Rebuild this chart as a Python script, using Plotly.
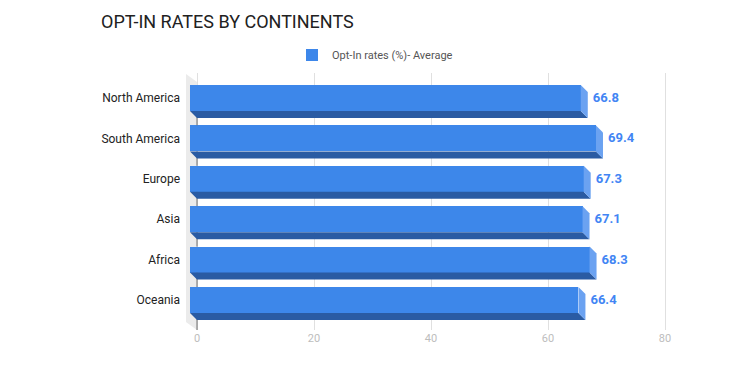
import plotly.graph_objects as go

# ---- data ----
categories = ["North America", "South America", "Europe", "Asia", "Africa", "Oceania"]
values = [66.8, 69.4, 67.3, 67.1, 68.3, 66.4]
series_name = "Opt-In rates (%)- Average"
x_ticks = [0, 20, 40, 60, 80]
title_text = "OPT-IN RATES BY CONTINENTS"

# ---- layout geometry (pixels) ----
W, H = 732, 370
L, R, T, B = 186, 672, 73, 330
sx = 5.85          # px per x unit
front0 = 190       # pixel of x=0 on front face
back0 = 197        # pixel of x=0 on back plane (grid)
sy = 40.4          # px per category
c0 = 98            # pixel of first category centre
depth = 7          # 3D depth in px
bar_px = 26

x_range = [(L - front0) / sx, (R - front0) / sx]
x2_range = [(L - back0) / sx, (R - back0) / sx]
y_range = [(B - c0) / sy, (T - c0) / sy]
dxu = depth / sx
dyu = depth / sy
h = bar_px / sy / 2

FRONT = "#3d87ea"
SIDE = "#6ba2f1"
BOTTOM = "#2a5ba3"
idx = list(range(len(categories)))

def px(x, y):
    return (x - L) / (R - L), (B - y) / (B - T)

fig = go.Figure()
fig.add_trace(go.Bar(
    x=values, y=idx, orientation="h", width=bar_px / sy,
    marker=dict(color=FRONT, line=dict(width=0)),
    name=series_name, xaxis="x", yaxis="y", showlegend=True,
    hoverinfo="skip",
))
fig.add_trace(go.Scatter(
    x=[v + dxu + 5 / sx for v in values], y=[i + 0.02 for i in idx], mode="text",
    text=[f"{v:.1f}" for v in values], textposition="middle right",
    textfont=dict(family="Roboto", size=13, color="#4285f4", weight="bold"),
    xaxis="x", yaxis="y", showlegend=False, hoverinfo="skip",
))
# invisible trace to activate x2
fig.add_trace(go.Scatter(x=[0], y=[0], mode="markers", marker=dict(opacity=0),
                         xaxis="x2", yaxis="y", showlegend=False, hoverinfo="skip"))

shapes = []
# left wall
pts = [px(186, 74), px(197, 82), px(197, 330), px(186, 322)]
path = "M" + " L".join(f"{a},{b}" for a, b in pts) + " Z"
shapes.append(dict(type="path", xref="paper", yref="paper", path=path,
                   fillcolor="#ebebeb", line=dict(width=0), layer="below"))
# zero line on back plane, visible between bars
for i in idx:
    y0 = i + h
    y1 = i + 1 - h if i < len(idx) - 1 else y_range[0]
    shapes.append(dict(type="line", xref="x2", yref="y", x0=0, x1=0,
                       y0=y0, y1=y1, line=dict(color="#6e6e6e", width=1),
                       layer="above"))
for i, v in zip(idx, values):
    bottom = (f"M0,{i + h} L{v},{i + h} L{v + dxu},{i + h + dyu} "
              f"L{dxu},{i + h + dyu} Z")
    shapes.append(dict(type="path", xref="x", yref="y", path=bottom,
                       fillcolor=BOTTOM, line=dict(width=0), layer="above"))
    side = (f"M{v},{i - h} L{v + dxu},{i - h + dyu} L{v + dxu},{i + h + dyu} "
            f"L{v},{i + h} Z")
    shapes.append(dict(type="path", xref="x", yref="y", path=side,
                       fillcolor=SIDE, line=dict(width=0), layer="above"))

lx, ly = px(292, 55)
fig.update_layout(
    width=W, height=H,
    margin=dict(l=L, r=W - R, t=T, b=H - B, pad=0),
    paper_bgcolor="white", plot_bgcolor="white",
    font=dict(family="Roboto", color="#222222"),
    title=dict(text=title_text, x=101 / W, xanchor="left", y=1 - 22 / H,
               yanchor="middle", font=dict(family="Roboto", size=18, color="#212121")),
    showlegend=True,
    legend=dict(orientation="h", x=lx, y=ly, xanchor="left", yanchor="middle",
                font=dict(family="Roboto", size=11, color="#555555"),
                bgcolor="rgba(0,0,0,0)"),
    xaxis=dict(range=x_range, visible=False, fixedrange=True),
    xaxis2=dict(range=x2_range, overlaying="x", side="bottom", anchor="y",
                tickvals=x_ticks, ticktext=[str(t) for t in x_ticks],
                showgrid=True, gridcolor="#e0e0e0", gridwidth=1,
                zeroline=False, showline=False, ticks="",
                tickfont=dict(family="Roboto", size=11, color="#bdbdbd")),
    yaxis=dict(range=y_range, tickvals=idx, ticktext=categories,
               showgrid=False, zeroline=False, showline=False, ticks="",
               ticklabelstandoff=5,
               tickfont=dict(family="Roboto", size=12, color="#222222")),
    shapes=shapes,
    bargap=0,
)
fig.write_html("out.html", config={"displayModeBar": False},
               post_script="document.body.style.margin='0';document.body.style.padding='0';")
